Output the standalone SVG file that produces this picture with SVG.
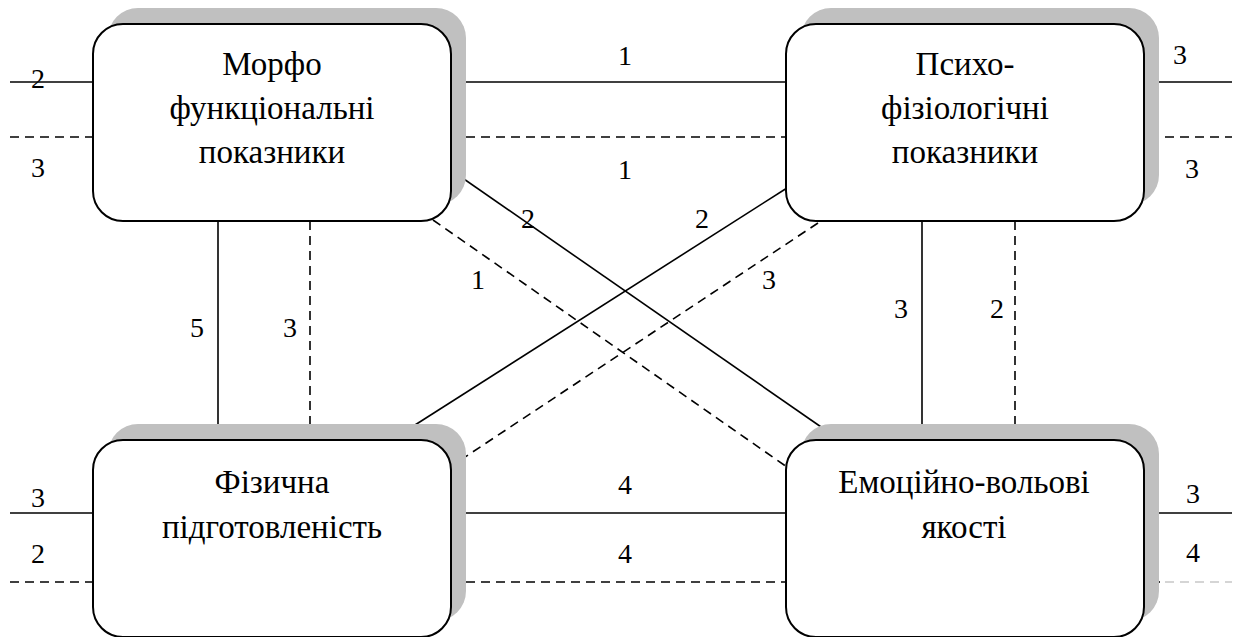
<svg xmlns="http://www.w3.org/2000/svg" width="1238" height="637" viewBox="0 0 1238 637">
<defs>
<rect id="boxshape" width="358" height="197" rx="30"/>
</defs>
<rect width="1238" height="637" fill="#fff"/>
<g id="connectors" fill="none" stroke="#000" stroke-width="1.6">
<g>
<line x1="10" y1="82" x2="93" y2="82"/>
<line x1="451" y1="82" x2="786" y2="82"/>
<line x1="1150" y1="82" x2="1232" y2="82"/>
<line x1="10" y1="513" x2="93" y2="513"/>
<line x1="451" y1="513" x2="786" y2="513"/>
<line x1="1150" y1="513" x2="1232" y2="513"/>
<line x1="1150" y1="582" x2="1160" y2="582"/>
<line x1="218" y1="221" x2="218" y2="440"/>
<line x1="922" y1="221" x2="922" y2="440"/>
<line x1="451" y1="170" x2="837" y2="438"/>
<line x1="787" y1="188" x2="393" y2="439"/>
</g>
<g stroke-dasharray="9 6">
<line x1="10" y1="137" x2="93" y2="137"/>
<line x1="451" y1="137" x2="786" y2="137"/>
<line x1="1150" y1="137" x2="1232" y2="137"/>
<line x1="10" y1="582" x2="93" y2="582"/>
<line x1="451" y1="582" x2="786" y2="582"/>
<line x1="310" y1="221" x2="310" y2="440"/>
<line x1="1015" y1="221" x2="1015" y2="440"/>
<line x1="433" y1="220" x2="787" y2="467"/>
<line x1="818" y1="223" x2="450" y2="467"/>
<line x1="1165" y1="582" x2="1232" y2="582" stroke="#c8c8c8"/>
</g>
</g>
<g id="labels" fill="#000">
<text font-family="'Liberation Serif'" font-size="28" text-anchor="middle" x="38" y="88">2</text>
<text font-family="'Liberation Serif'" font-size="28" text-anchor="middle" x="38" y="177">3</text>
<text font-family="'Liberation Serif'" font-size="28" text-anchor="middle" x="625" y="65">1</text>
<text font-family="'Liberation Serif'" font-size="28" text-anchor="middle" x="625" y="179">1</text>
<text font-family="'Liberation Serif'" font-size="28" text-anchor="middle" x="1180" y="64">3</text>
<text font-family="'Liberation Serif'" font-size="28" text-anchor="middle" x="1192" y="178">3</text>
<text font-family="'Liberation Serif'" font-size="28" text-anchor="middle" x="528" y="228">2</text>
<text font-family="'Liberation Serif'" font-size="28" text-anchor="middle" x="702" y="228">2</text>
<text font-family="'Liberation Serif'" font-size="28" text-anchor="middle" x="478" y="289">1</text>
<text font-family="'Liberation Serif'" font-size="28" text-anchor="middle" x="769" y="289">3</text>
<text font-family="'Liberation Serif'" font-size="28" text-anchor="middle" x="197" y="337">5</text>
<text font-family="'Liberation Serif'" font-size="28" text-anchor="middle" x="290" y="337">3</text>
<text font-family="'Liberation Serif'" font-size="28" text-anchor="middle" x="901" y="318">3</text>
<text font-family="'Liberation Serif'" font-size="28" text-anchor="middle" x="997" y="318">2</text>
<text font-family="'Liberation Serif'" font-size="28" text-anchor="middle" x="38" y="507">3</text>
<text font-family="'Liberation Serif'" font-size="28" text-anchor="middle" x="38" y="563">2</text>
<text font-family="'Liberation Serif'" font-size="28" text-anchor="middle" x="625" y="494">4</text>
<text font-family="'Liberation Serif'" font-size="28" text-anchor="middle" x="625" y="563">4</text>
<text font-family="'Liberation Serif'" font-size="28" text-anchor="middle" x="1193" y="503">3</text>
<text font-family="'Liberation Serif'" font-size="28" text-anchor="middle" x="1193" y="562">4</text>
</g>
<g id="morpho">
<use href="#boxshape" x="108" y="8" fill="#c0c0c0"/>
<use href="#boxshape" x="93" y="24" fill="#fff" stroke="#000" stroke-width="2"/>
<text font-family="'Liberation Serif'" font-size="33" text-anchor="middle" x="272" y="75">Морфо</text>
<text font-family="'Liberation Serif'" font-size="33" text-anchor="middle" x="272" y="119">функціональні</text>
<text font-family="'Liberation Serif'" font-size="33" text-anchor="middle" x="272" y="163">показники</text>
</g>
<g id="psycho">
<use href="#boxshape" x="801" y="8" fill="#c0c0c0"/>
<use href="#boxshape" x="786" y="24" fill="#fff" stroke="#000" stroke-width="2"/>
<text font-family="'Liberation Serif'" font-size="33" text-anchor="middle" x="965" y="75">Психо-</text>
<text font-family="'Liberation Serif'" font-size="33" text-anchor="middle" x="965" y="119">фізіологічні</text>
<text font-family="'Liberation Serif'" font-size="33" text-anchor="middle" x="965" y="163">показники</text>
</g>
<g id="physical">
<use href="#boxshape" x="108" y="424" fill="#c0c0c0"/>
<use href="#boxshape" x="93" y="440" fill="#fff" stroke="#000" stroke-width="2"/>
<text font-family="'Liberation Serif'" font-size="33" text-anchor="middle" x="272" y="493">Фізична</text>
<text font-family="'Liberation Serif'" font-size="33" text-anchor="middle" x="272" y="538">підготовленість</text>
</g>
<g id="emotional">
<use href="#boxshape" x="801" y="424" fill="#c0c0c0"/>
<use href="#boxshape" x="786" y="440" fill="#fff" stroke="#000" stroke-width="2"/>
<text font-family="'Liberation Serif'" font-size="33" text-anchor="middle" x="964" y="493">Емоційно-вольові</text>
<text font-family="'Liberation Serif'" font-size="33" text-anchor="middle" x="964" y="538">якості</text>
</g>
</svg>
